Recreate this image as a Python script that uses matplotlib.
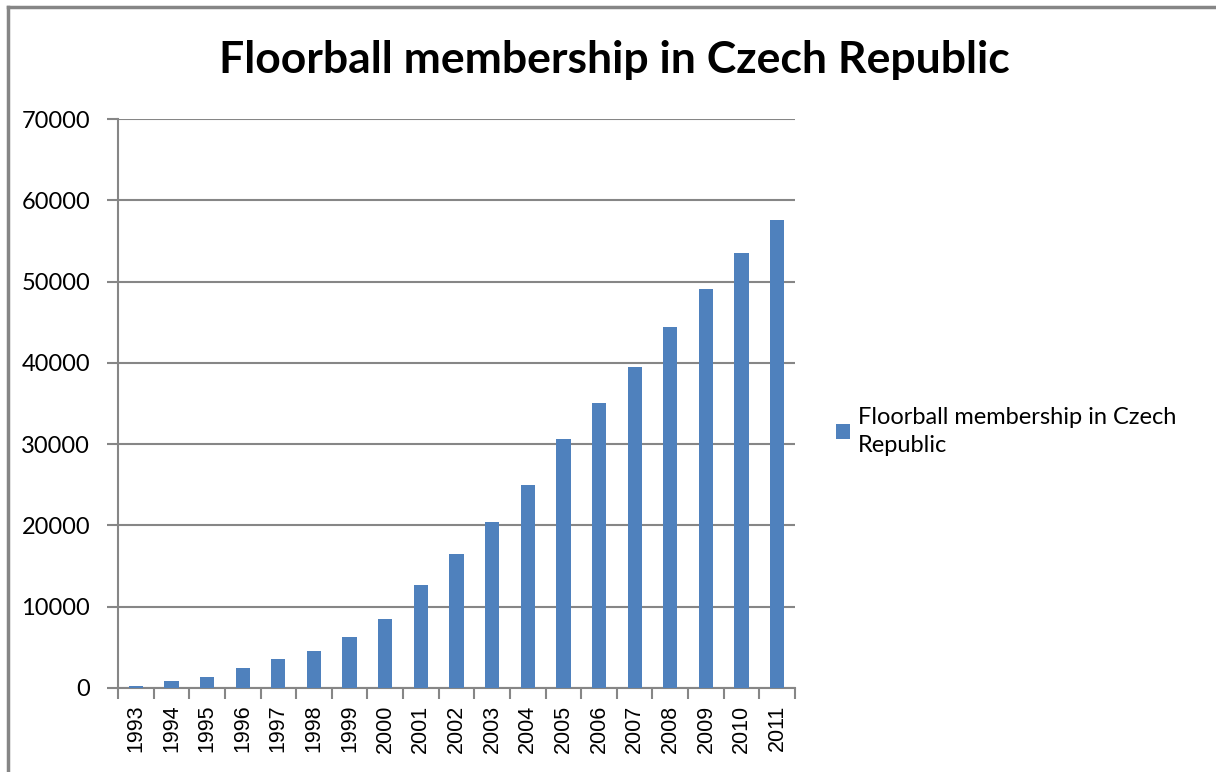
import numpy as np
import matplotlib.pyplot as plt
from matplotlib.lines import Line2D

# Data
years = ['1993', '1994', '1995', '1996', '1997', '1998', '1999', '2000', '2001', '2002',
         '2003', '2004', '2005', '2006', '2007', '2008', '2009', '2010', '2011']
members = [300, 800, 1400, 2500, 3600, 4600, 6300, 8500, 12700, 16500,
           20450, 25000, 30650, 35100, 39500, 44450, 49100, 53550, 57600]
yticks = [0, 10000, 20000, 30000, 40000, 50000, 60000, 70000]

bar_color = '#4F81BD'
grey = '#868686'

fig = plt.figure(figsize=(12.16, 7.72), dpi=100)
ax = fig.add_axes([118 / 1216, 1 - 688 / 772, (795 - 118) / 1216, (688 - 119) / 772])

x = np.arange(len(years))
ax.bar(x, members, width=0.4, color=bar_color, zorder=3,
       label='Floorball membership in Czech\nRepublic')

ax.set_xlim(-0.5, len(years) - 0.5)
ax.set_ylim(0, 70000)
ax.set_yticks(yticks)
ax.set_yticklabels([str(v) for v in yticks], fontsize=17, family='Lato')
ax.yaxis.grid(True, color=grey, linewidth=1.5, zorder=0)

ax.set_xticks(x)
ax.set_xticklabels(years, rotation=90, fontsize=15.5, family='Liberation Sans')
ax.set_xticks(np.arange(len(years) + 1) - 0.5, minor=True)
ax.tick_params(axis='x', which='major', length=0, pad=12)
ax.tick_params(axis='x', which='minor', length=8, color=grey, width=1.5)
ax.tick_params(axis='y', length=8, color=grey, width=1.5, pad=12)

for s in ['top', 'right']:
    ax.spines[s].set_visible(False)
for s in ['left', 'bottom']:
    ax.spines[s].set_color(grey)
    ax.spines[s].set_linewidth(1.5)

fig.text(614 / 1216, 1 - 60 / 772, 'Floorball membership in Czech Republic',
         ha='center', va='center', fontsize=32, fontweight='bold', family='Lato')

leg = fig.legend(loc='upper left', bbox_to_anchor=(815 / 1216, 1 - 386 / 772),
                 frameon=False, prop={'family': 'Lato', 'size': 17},
                 handlelength=0.6, handleheight=0.6, handletextpad=0.3)
for t in leg.get_texts():
    t.set_linespacing(1.4)

# outer chart border (top and left edges visible)
fig.add_artist(Line2D([8 / 1216, 8 / 1216], [0, 1 - 7 / 772], color=grey, linewidth=2.5))
fig.add_artist(Line2D([8 / 1216, 1], [1 - 7 / 772, 1 - 7 / 772], color=grey, linewidth=2.5))

fig.savefig('out.png', dpi=100)
